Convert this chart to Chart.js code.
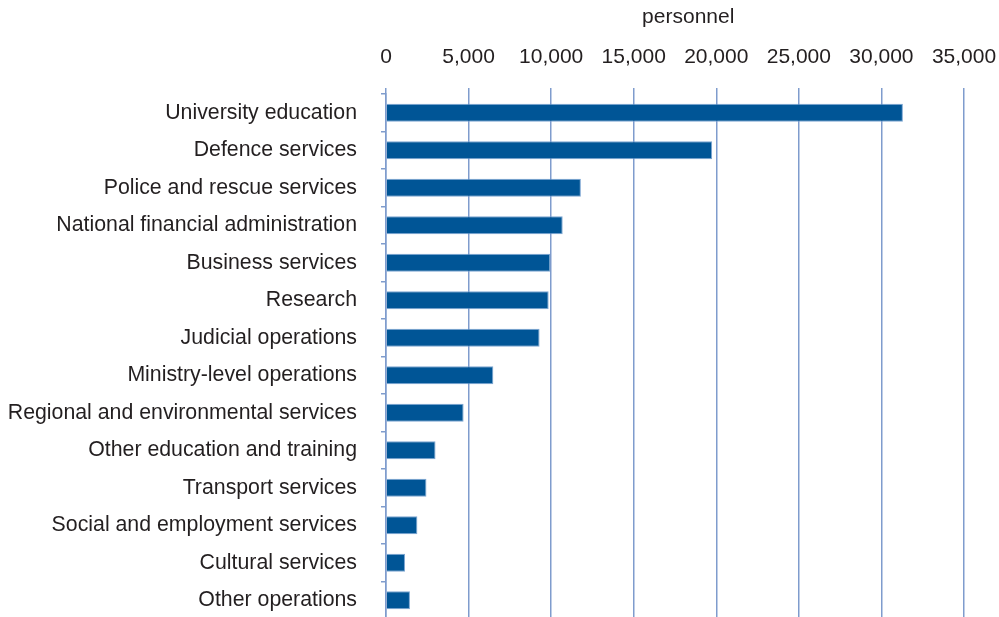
<!DOCTYPE html>
<html>
<head>
<meta charset="utf-8">
<script src="https://cdn.jsdelivr.net/npm/chart.js@4.4.1/dist/chart.umd.min.js"></script>
<style>
  html, body { margin: 0; padding: 0; background: #fff; overflow: hidden; }
  #wrap { width: 999px; height: 620px; }
</style>
</head>
<body>
<div id="wrap"><canvas id="chart" width="999" height="620"></canvas></div>
<script>
const categories = [
  'University education',
  'Defence services',
  'Police and rescue services',
  'National financial administration',
  'Business services',
  'Research',
  'Judicial operations',
  'Ministry-level operations',
  'Regional and environmental services',
  'Other education and training',
  'Transport services',
  'Social and employment services',
  'Cultural services',
  'Other operations'
];
const personnel = [31300, 19750, 11800, 10700, 9950, 9850, 9300, 6500, 4700, 3000, 2450, 1900, 1150, 1450];
const axisTitle = 'personnel';

const gridColor = '#7f9ccd';
const textColor = '#231f20';
const family = '"Liberation Sans", Arial, Helvetica, sans-serif';

// axis title sits a bit right of centre in the original
const titlePlugin = {
  id: 'axisTitle',
  afterDraw(chart) {
    const ctx = chart.ctx;
    const x = chart.scales.x.getPixelForValue(18300);
    ctx.save();
    ctx.font = '21px ' + family;
    ctx.fillStyle = textColor;
    ctx.textAlign = 'center';
    ctx.textBaseline = 'middle';
    ctx.fillText(axisTitle, x, 17);
    ctx.restore();
  }
};

new Chart(document.getElementById('chart').getContext('2d'), {
  type: 'bar',
  data: {
    labels: categories,
    datasets: [{
      label: axisTitle,
      data: personnel,
      backgroundColor: '#005596',
      borderColor: 'rgba(110,155,205,0.9)',
      borderWidth: 1,
      borderSkipped: 'start',
      barPercentage: 0.96,
      categoryPercentage: 0.5
    }]
  },
  options: {
    indexAxis: 'y',
    responsive: false,
    animation: false,
    layout: { padding: { left: 0, right: 35, top: 0, bottom: 1 } },
    plugins: {
      legend: { display: false },
      tooltip: { enabled: false }
    },
    scales: {
      x: {
        position: 'top',
        min: 0,
        max: 35000,
        afterFit(scale) {
          scale.height = 94;
          scale.paddingLeft = 0;
          scale.paddingRight = 0;
        },
        ticks: {
          stepSize: 5000,
          color: textColor,
          font: { family: family, size: 21 },
          padding: 18,
          maxRotation: 0,
          callback: v => v.toLocaleString('en-US')
        },
        grid: {
          color: gridColor,
          lineWidth: 1.5,
          tickLength: 6,
          drawTicks: true
        },
        border: { display: false }
      },
      y: {
        afterFit(scale) {
          scale.width = 386;
          scale.paddingTop = 0;
          scale.paddingBottom = 0;
        },
        ticks: {
          color: textColor,
          font: { family: family, size: 21.3 },
          padding: 24,
          autoSkip: false
        },
        grid: {
          offset: true,
          drawOnChartArea: false,
          color: gridColor,
          lineWidth: 1.5,
          tickLength: 5
        },
        border: { display: true, color: gridColor, width: 1.5 }
      }
    }
  },
  plugins: [titlePlugin]
});
</script>
</body>
</html>
